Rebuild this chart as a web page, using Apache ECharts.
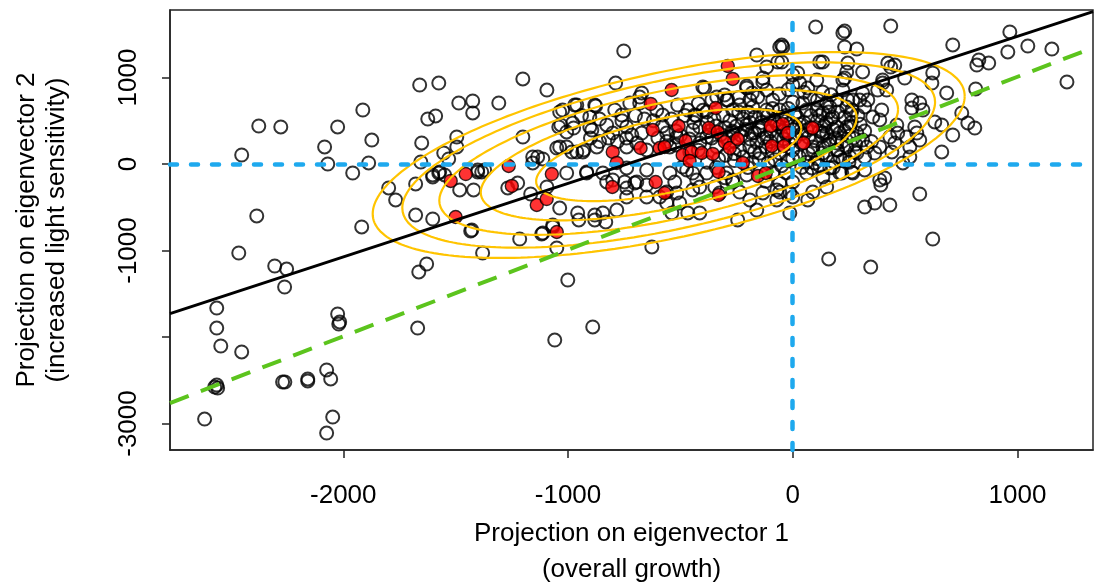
<!DOCTYPE html>
<html>
<head>
<meta charset="utf-8">
<script src="https://cdn.jsdelivr.net/npm/echarts@6/dist/echarts.min.js"></script>
<style>
  html, body { margin: 0; padding: 0; background: #fff; }
  #chart { width: 1094px; height: 584px; }
</style>
</head>
<body>
<div id="chart"></div>
<script>
// Axis ranges and tick positions
const xRange = [-2771, 1336];
const yRange = [-3306, 1780];
const xTicks = [-2000, -1000, 0, 1000];
const yTicks = [-3000, -2000, -1000, 0, 1000];
const yTickLabels = [-3000, -1000, 0, 1000];

// Projections of all lines (open circles)
const allLines = [
  [-1660,913],[-1575,936],[-1913,624],[-2376,439],[-2278,428],[-2025,428],[-2083,197],[-1873,277],[-2452,104],[-2069,0],
  [-1887,12],[-1958,-104],[-1486,705],[-1424,728],[-1424,590],[-1624,520],[-1589,555],[-1651,243],[-1495,312],[-1495,197],
  [-1553,127],[-1531,58],[-1655,23],[-1575,-104],[-1602,-150],[-1678,-231],[-1798,-277],[-1767,-416],[-1482,-300],[-1420,-300],
  [-1402,-92],[-1678,-590],[-1602,-636],[-2385,-601],[-1918,-728],
  [-2465,-1029],[-2305,-1179],[-2252,-1214],[-2261,-1422],[-2563,-1665],[-2563,-1896],[-2545,-2104],[-2452,-2173],[-2025,-1734],
  [-2016,-1826],[-2020,-1850],[-1669,-1896],[-1664,-1248],[-1629,-1156],[-1433,-775],[-1380,-1029],[-2563,-2555],[-2572,-2578],
  [-2559,-2590],[-2270,-2520],[-2260,-2520],[-2158,-2485],[-2158,-2508],[-2074,-2381],[-2056,-2485],[-2047,-2925],[-2074,-3110],
  [-2617,-2948],
  [-1215,-867],[-1117,-809],[-1068,-728],[-1050,-971],[-1001,-1341],[-890,-1884],[-1059,-2035],[-627,-959],[-952,-647],[-881,-647],
  [-832,-670],
  [160,-1098],[347,-1191],[623,-867],
  [102,1584],[231,1537],[223,1514],[436,1595],[966,1526],[712,1376],[1046,1364],[1153,1329],[957,1295],[231,1353],
  [285,1329],[1220,948],[828,1202],[819,1144],[872,1167],[120,1179],[423,1167],[454,1144],[436,1121],[311,1064],
  [245,1167],[-44,1353],[-49,1179],[0,1029],[623,1052],[619,936],[107,971],[231,994],[498,994],[400,971],
  [685,821],[814,867],[752,590],[779,474],[810,416],[663,451],[632,486],[712,335],[663,139],[565,705],
  [530,740],[530,647],[579,624],[543,428],[552,358],[565,277],[507,312],[463,451],[467,358],[432,312],
  [387,509],[356,544],[396,624],[320,659],[334,740],[298,740],[311,821],[378,855],[418,855],[400,936],
  [387,197],[365,127],[329,197],[320,81],[276,139],[254,81],[223,46],[98,12],[85,-46],[223,855],
  [245,740],[263,624],[165,659],[134,590],[178,543],[196,428],[151,358],[240,428],[285,358],[311,277],
  [196,243],[134,197],[454,243],[441,139],[521,197],[521,81],[490,12],
  [320,-69],[387,-185],[409,-162],[392,-243],[565,-347],[320,-497],[365,-451],[432,-474],[67,-416],[0,-381],
  [218,-104],[263,-92],[165,-46],[-58,-324],
  [-752,1306],[-1201,983],[-1094,855],[-1308,705],[-788,936],[-1037,601],[-1032,451],[-1041,428],[-970,682],[-975,416],
  [-903,428],[-877,671],[-1201,312],[-1050,185],[-1006,197],[-961,139],[-930,162],[-1157,81],[-1135,81],[-1112,58],
  [-1157,12],[-1384,-92],[-1268,-277],[-1224,-220],[-1166,-347],[-1037,-509],[-917,-104],[-957,-566],[-881,-590],[-845,-566],
  [-783,-532],[-828,-208],[-801,-185],[-748,-208],[-703,-220],[-739,-381],[-650,-243],[-650,-381],[-592,-381],[-561,-451],
  [-516,-335],[-503,-451],[-467,-566],[-538,-566],
  [-1602,-127],[-1571,-92],[-1549,-127],[-1402,-69],[-1371,-69],[-1428,-763],[-1094,-266],[-1112,-798],[-1068,-705],
  [-58,1353],[-160,1260],[-67,1179],[133,1179],[-672,821],[-681,774],[-392,879],[-338,774],[-294,740],[-133,948],
  [-116,855],[-205,879],[-156,774],[-191,740],[22,1052],[31,936],[0,913],[67,879],[133,832],[76,774],
  [240,1064],[223,971],
  [-881,682],[-903,543],[-961,682],[-1024,624],[-792,624],[-761,566],[-725,705],[-681,705],[-605,624],[-579,566],
  [-512,682],[-467,624],[-436,566],[-383,601],[-267,624],[-236,682],[-178,659],[-116,624],[-89,740],[-58,624],
  [0,717],[45,705],[107,624],[151,705],[196,740],[240,659],[267,740],
  [-1006,370],[-979,474],[-894,393],[-828,451],[-801,358],[-739,428],[-716,335],[-672,358],[-561,358],[-516,312],
  [-445,393],[-414,428],[-383,312],[-267,358],[-205,451],[-182,358],[-147,393],[-116,312],[-27,335],[18,428],
  [62,393],[134,358],[165,277],[209,358],[254,428],
  [-1037,197],[-983,139],[-934,139],[-872,197],[-739,197],[-694,243],[-650,162],[-547,197],[-458,139],[-414,243],
  [-338,197],[-236,162],[-191,197],[-147,127],[-58,127],[0,162],[89,197],[134,127],[196,162],[240,197],[285,127],
  [-1006,-104],[-917,-92],[-845,-104],[-739,-46],[-694,-208],[-650,-69],[-547,-104],[-525,-208],[-472,-69],[-427,-185],
  [-383,-104],[-294,-104],[-267,-208],[-205,-127],[-89,-104],[-58,-220],[0,-208],[62,-104],[134,-150],[209,-104],[267,-104],
  [-739,-277],[-561,-324],[-445,-300],[-325,-335],[-236,-324],[-71,-300],[-13,-335],[89,-324],[151,-266],
  [-49,1375],[-116,1121],[-133,994],[-205,902],[-400,890],[-303,798],[-289,740],
  [-490,-35],[-445,-104],[-414,-266],[-347,-266],[-267,-185],[-191,-416],[-133,-335],[-71,-416],[-160,-532],[-13,-566],
  [-245,-647],[-414,-566],
  [-380,480],[-350,520],[-310,560],[-280,500],[-250,440],[-220,520],[-200,600],[-170,540],[-140,480],[-110,560],
  [-80,500],[-60,430],[-30,560],[-10,480],[20,540],[50,480],[80,560],[110,500],[140,440],[170,520],
  [200,600],[230,540],[260,480],[290,560],
  [-360,300],[-320,340],[-270,380],[-230,330],[-190,290],[-160,250],[-130,300],[-100,260],[-70,320],[-40,290],
  [-15,240],[10,300],[40,350],[70,310],[100,270],[130,320],[160,230],[190,300],[220,260],[250,320],[280,230],
  [-330,60],[-300,100],[-260,40],[-220,80],[-180,20],[-150,60],[-110,10],[-80,50],[-50,-20],[-20,40],
  [30,80],[60,20],[110,60],[150,100],[180,30],[210,80],[250,20],
  [-420,700],[-360,740],[-240,770],[-180,820],[-60,810],[-20,860],[50,830],[110,740],[170,800],
  [-620,500],[-580,440],[-540,520],[-520,380],[-480,560],[-440,480],[-600,300],[-560,260],[-520,220],[-500,330],[-460,290],
  [-700,560],[-660,520],[-760,500],[-860,520],[-940,560],[-900,300],[-860,260],[-820,300],[-780,260],[-740,300],
  [-430,560],[-400,620],[-370,380],[-340,440],[-300,420],[-290,300],[-260,260],[-240,600],[-210,400],[-190,480],
  [-170,360],[-150,420],[-130,560],[-120,200],[-100,380],[-90,640],[-70,460],[-50,540],[-40,380],[-20,640],
  [0,400],[10,580],[30,460],[40,240],[60,620],[80,420],[90,160],[120,560],[120,380],[150,480],
  [160,600],[180,400],[200,160],[230,380],[260,580],[270,300],[300,460],[320,380],[350,260],
  [-420,160],[-380,20],[-340,-40],[-300,-160],[-260,120],[-200,-40],[-170,140],[-120,-200],[-90,150],[-30,-100],
  [0,60],[40,-40],[70,120],[120,-20],[180,-40]
];

// Projections of the selected lines (filled red)
const selectedLines = [
  [-1522,-196],[-1455,-116],[-1500,-613],[-1264,-23],[-1250,-254],[-1139,-474],[-1095,-405],[-1072,-116],[-1050,-786],[-803,-266],
  [-801,139],[-783,12],[-677,185],[-632,694],[-539,855],[-623,393],[-592,185],[-570,197],[-508,439],[-477,266],
  [-490,104],[-450,139],[-459,35],[-405,127],[-356,116],[-610,-208],[-570,-335],[-343,647],[-289,1133],[-267,983],
  [-374,416],[-334,370],[-302,254],[-280,185],[-245,289],[-330,-92],[-222,12],[-330,-358],[-155,-139],[-120,-104],
  [-98,439],[-44,462],[-22,358],[-93,208],[-40,208],[49,243],[89,416]
];

// Fitted lines: [intercept, slope]
const majorAxisFit = [625, 0.850];
const identityFit = [8, 1.0];

// Density contour ellipses: centre, shape (Cholesky factors) and relative radii
const ellipseCentre = [-552, 104];
const ellipseShape = { a: 1317, b1: 680, b2: 977 };
const ellipseRadii = [1, 0.90, 0.775, 0.635, 0.448];

function ellipsePoints(s) {
  const pts = [];
  const n = 240;
  for (let i = 0; i <= n; i++) {
    const t = (i / n) * Math.PI * 2;
    const c = Math.cos(t), sn = Math.sin(t);
    pts.push([
      ellipseCentre[0] + s * ellipseShape.a * c,
      ellipseCentre[1] + s * (ellipseShape.b1 * c + ellipseShape.b2 * sn)
    ]);
  }
  return pts;
}

function fitLine(fit) {
  return xRange.map(x => [x, fit[0] + fit[1] * x]);
}

const FONT = 'Liberation Sans, Arial, sans-serif';
const plain = v => String(v);
const chart = echarts.init(document.getElementById('chart'), null, { renderer: 'canvas' });

const series = [
  {
    type: 'scatter',
    data: allLines,
    symbol: 'circle',
    symbolSize: 13,
    itemStyle: { color: 'rgba(0,0,0,0)', borderColor: '#000', borderWidth: 2 },
    z: 2
  },
  {
    type: 'scatter',
    data: selectedLines,
    symbol: 'circle',
    symbolSize: 13,
    itemStyle: { color: '#ff0000', borderColor: '#000', borderWidth: 1.4 },
    z: 3
  }
];

ellipseRadii.forEach(s => {
  series.push({
    type: 'line',
    data: ellipsePoints(s),
    showSymbol: false,
    smooth: false,
    clip: true,
    lineStyle: { color: '#ffc400', width: 2.2 },
    z: 4
  });
});

series.push({
  type: 'line',
  data: fitLine(majorAxisFit),
  showSymbol: false,
  clip: true,
  lineStyle: { color: '#000', width: 3 },
  z: 5
});
series.push({
  type: 'line',
  data: fitLine(identityFit),
  showSymbol: false,
  clip: true,
  lineStyle: { color: '#5cc41d', width: 4, type: [20, 13] },
  z: 5
});
// Dotted reference lines through the origin
series.push({
  type: 'line',
  data: [],
  markLine: {
    silent: true,
    symbol: 'none',
    label: { show: false },
    lineStyle: { color: '#1ea9ee', width: 4.5, type: [7, 14], cap: 'round' },
    data: [{ xAxis: 0 }, { yAxis: 0 }]
  },
  z: 6
});

chart.setOption({
  animation: false,
  backgroundColor: '#fff',
  grid: {
    left: 170, right: 1, top: 10, bottom: 134,
    outerBoundsMode: 'none',
    containLabel: false,
    show: true, borderColor: '#222', borderWidth: 1.5
  },
  xAxis: {
    type: 'value',
    min: xRange[0], max: xRange[1],
    axisLine: { show: true, onZero: false, lineStyle: { color: '#222', width: 1.5 } },
    axisTick: { show: true, customValues: xTicks, length: 8, lineStyle: { color: '#222', width: 1.5 } },
    axisLabel: { customValues: xTicks, formatter: plain, fontSize: 26, color: '#000', fontFamily: FONT, margin: 33 },
    splitLine: { show: false },
    name: 'Projection on eigenvector 1\n(overall growth)',
    nameLocation: 'middle',
    nameGap: 66,
    nameTextStyle: { fontSize: 26, color: '#000', fontFamily: FONT, lineHeight: 36, verticalAlign: 'top' }
  },
  yAxis: {
    type: 'value',
    min: yRange[0], max: yRange[1],
    axisLine: { show: true, onZero: false, lineStyle: { color: '#222', width: 1.5 } },
    axisTick: { show: true, customValues: yTicks, length: 8, lineStyle: { color: '#222', width: 1.5 } },
    axisLabel: { customValues: yTickLabels, formatter: plain, fontSize: 26, color: '#000', fontFamily: FONT, rotate: 90, margin: 28 },
    splitLine: { show: false },
    name: 'Projection on eigenvector 2\n(increased light sensitivity)',
    nameLocation: 'middle',
    nameRotate: 90,
    nameGap: 98,
    nameTextStyle: { fontSize: 26, color: '#000', fontFamily: FONT, lineHeight: 30 }
  },
  series: series
});
</script>
</body>
</html>
